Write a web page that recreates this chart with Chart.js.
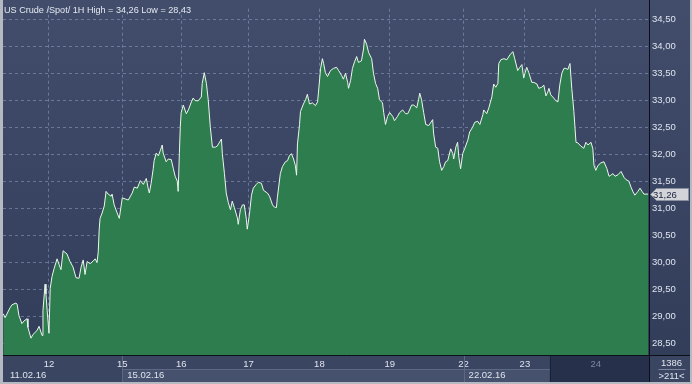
<!DOCTYPE html>
<html><head><meta charset="utf-8">
<script src="https://cdn.jsdelivr.net/npm/chart.js@4.4.0/dist/chart.umd.min.js"></script>
<style>html,body{margin:0;padding:0;background:#b4b9c2;overflow:hidden}canvas{display:block}</style>
</head><body>
<canvas id="c" width="692" height="384" style="width:692px;height:384px"></canvas>
<script>
// time axis in hourly bars from the first visible bar
const barIndex = [0.1,0.7,2.3,3.0,4.3,4.7,5.3,6.3,7.0,8.0,8.3,9.3,10.0,11.3,12.0,13.0,13.3,14.0,14.3,14.7,15.3,15.7,16.3,17.0,18.0,18.7,19.3,20.0,21.3,22.3,23.3,24.3,25.3,26.0,26.7,27.3,28.0,29.0,30.0,30.7,31.3,31.7,32.0,32.3,33.0,33.7,34.3,35.0,36.0,36.3,37.0,38.0,38.7,39.3,39.7,40.7,41.7,43.0,43.7,44.7,45.7,46.7,47.7,48.3,48.7,49.3,50.0,50.3,51.0,51.7,52.3,53.0,53.3,54.3,55.0,56.0,56.7,57.3,58.0,58.3,58.7,59.0,59.3,60.0,61.0,61.7,62.7,63.3,64.0,65.0,66.0,66.3,67.0,67.7,68.3,69.0,69.7,70.7,71.3,72.7,73.0,73.7,74.3,75.0,75.7,76.3,77.0,78.0,78.3,79.0,79.7,80.3,81.0,81.3,82.0,82.7,83.3,84.3,85.0,86.0,86.7,88.0,88.7,89.7,90.3,91.0,91.3,92.3,93.0,94.0,94.7,95.3,96.0,96.7,97.3,97.7,98.0,98.7,99.0,100.0,100.7,101.3,102.0,103.0,104.0,104.7,105.0,105.7,106.3,106.7,107.3,108.0,109.0,110.0,111.0,111.7,112.7,113.3,114.0,114.7,115.0,115.7,116.3,117.0,117.7,118.3,119.3,120.0,120.3,121.0,121.7,122.7,123.3,124.0,124.7,125.3,126.3,126.7,127.3,128.0,128.7,129.7,130.3,131.3,132.0,133.0,133.7,134.0,134.7,135.3,136.0,136.7,137.7,138.3,138.7,139.3,140.0,140.7,141.7,143.0,143.3,144.0,144.7,145.3,146.0,146.7,147.3,148.0,149.0,149.7,150.0,150.7,151.3,151.7,152.3,153.0,153.7,154.7,155.3,156.3,157.0,158.0,158.7,159.7,160.0,161.0,161.7,162.7,163.3,164.0,164.7,165.0,165.7,166.7,167.7,168.7,169.7,170.3,171.3,172.0,172.7,173.3,173.7,174.3,175.0,176.0,176.7,177.7,178.3,179.3,180.0,180.7,181.3,181.7,182.3,183.3,184.0,184.7,185.3,186.0,186.7,187.3,188.0,188.3,188.7,189.3,190.0,190.7,191.3,192.3,193.3,194.0,194.7,195.7,196.3,196.7,197.3,198.0,199.0,200.0,201.0,201.7,202.3,203.0,203.7,204.7,205.7,206.7,207.3,208.3,209.0,209.7,210.3,211.3,212.0,212.7,213.3,214.7];
const prices = [29.04,28.97,29.15,29.21,29.24,29.22,29.01,28.86,28.91,28.95,28.79,28.59,28.66,28.73,28.81,28.64,29.10,29.59,29.41,29.10,28.68,29.51,29.73,29.88,30.06,29.95,29.86,30.21,30.15,30.01,29.91,29.71,29.70,29.91,30.04,29.77,30.01,29.97,30.02,30.06,29.99,30.19,30.59,30.81,30.91,31.04,31.31,31.26,31.22,31.26,31.06,30.91,30.81,31.04,31.19,31.17,31.15,31.28,31.39,31.37,31.51,31.44,31.55,31.37,31.28,31.46,31.73,31.88,32.02,31.97,32.06,32.17,32.02,31.86,31.91,31.90,31.73,31.59,31.50,31.31,32.01,32.50,32.77,32.91,32.75,32.82,32.97,33.04,32.99,32.99,33.06,33.31,33.51,33.31,33.01,32.50,32.13,32.13,32.15,32.28,32.01,31.64,31.28,31.10,30.97,31.13,31.01,30.82,30.70,30.97,31.06,31.06,30.79,30.61,30.88,31.24,31.37,31.44,31.48,31.46,31.33,31.28,31.22,31.06,31.02,31.01,31.19,31.64,31.77,31.86,31.88,31.97,32.01,31.91,31.79,31.61,32.19,32.55,32.79,32.93,33.01,33.11,32.93,32.95,32.90,32.97,33.15,33.59,33.77,33.68,33.51,33.44,33.55,33.59,33.61,33.55,33.46,33.39,33.50,33.33,33.22,33.37,33.59,33.71,33.81,33.70,33.73,33.95,34.13,34.04,33.88,33.77,33.50,33.31,33.22,33.01,32.95,32.77,32.55,32.70,32.77,32.70,32.62,32.70,32.77,32.82,32.77,32.75,32.75,32.82,32.91,32.91,32.86,33.01,33.13,33.01,32.77,32.55,32.53,32.64,32.39,32.13,32.11,31.86,31.70,31.77,31.86,31.88,32.10,32.01,31.91,32.13,32.22,31.95,31.73,32.01,32.11,32.26,32.41,32.50,32.59,32.61,32.55,32.73,32.82,32.75,32.86,33.06,33.30,33.24,33.31,33.68,33.75,33.77,33.75,33.84,33.90,33.77,33.55,33.61,33.66,33.41,33.50,33.61,33.51,33.33,33.33,33.30,33.22,33.24,33.28,33.08,33.15,33.22,33.10,33.04,32.99,32.97,33.28,33.50,33.59,33.59,33.57,33.62,33.68,33.22,32.79,32.22,32.21,32.15,32.11,32.22,32.17,32.22,32.10,31.79,31.70,31.79,31.84,31.86,31.73,31.59,31.61,31.64,31.59,31.62,31.68,31.57,31.53,31.50,31.39,31.30,31.24,31.31,31.37,31.31,31.26,31.26];
const dayTicks = [15.3,39.7,59.3,81.7,105.3,128.7,153.3,173.7,197.3];
const dayLabels = ['12','15','16','17','18','19','22','23','24'];
const weekStarts = [0,39.7,153.3];
const weekLabels = ['11.02.16','15.02.16','22.02.16'];
const yTickValues = [28.5,29,29.5,30,30.5,31,31.5,32,32.5,33,33.5,34,34.5];
const titleText = 'US Crude /Spot/ 1H High = 34,26 Low = 28,43';
const barsTotal = '1386';
const barsVisible = '>211<';
const sessionStart = 182;   // start of the open (darker) session on the time axis
const axisMin = 0, axisMax = 215, yMin = 28.278, yMax = 34.696;

const W = 692, H = 384;
const FONT = 'Liberation Sans, Arial, sans-serif';
const fmt = v => v.toFixed(2).replace('.', ',');

const deco = {
  id: 'deco',
  beforeDraw(chart) {
    const {ctx, chartArea: a, scales: {x}} = chart;
    ctx.save();
    ctx.fillStyle = '#b4b9c2';
    ctx.fillRect(0, 0, W, H);
    const g = ctx.createLinearGradient(0, 0, 0, a.bottom);
    g.addColorStop(0, '#414d6b');
    g.addColorStop(1, '#323d5a');
    ctx.fillStyle = g;
    ctx.fillRect(a.left, 0, W - 2 - a.left, a.bottom);
    ctx.fillStyle = '#3a4561';
    ctx.fillRect(a.left, a.bottom, W - 2 - a.left, H - 2 - a.bottom);
    const xs = x.getPixelForValue(sessionStart);
    const xw1 = x.getPixelForValue(weekStarts[1]);
    ctx.fillStyle = '#46516e';
    ctx.fillRect(xw1, a.bottom + 14, xs - xw1, H - 2 - a.bottom - 14);
    ctx.fillStyle = '#26304a';
    ctx.fillRect(xs, a.bottom, a.right - xs, H - 2 - a.bottom);
    ctx.restore();
  },
  afterDraw(chart) {
    const {ctx, chartArea: a, scales: {x, y}} = chart;
    ctx.save();
    ctx.strokeStyle = '#5d6984';
    ctx.lineWidth = 1;
    const xs = x.getPixelForValue(sessionStart);
    ctx.beginPath();
    ctx.moveTo(x.getPixelForValue(weekStarts[1]), a.bottom + 14.5);
    ctx.lineTo(xs, a.bottom + 14.5);
    for (let i = 1; i < weekStarts.length; i++) {
      const px = Math.round(x.getPixelForValue(weekStarts[i])) + 0.5;
      ctx.moveTo(px, a.bottom);
      ctx.lineTo(px, H - 2);
    }
    ctx.stroke();
    ctx.strokeStyle = '#1a2136';
    ctx.beginPath();
    ctx.moveTo(Math.round(xs) + 0.5, a.bottom);
    ctx.lineTo(Math.round(xs) + 0.5, H - 2);
    ctx.stroke();
    ctx.fillStyle = '#dfe4ee';
    ctx.font = '9.5px ' + FONT;
    ctx.textBaseline = 'alphabetic';
    ctx.textAlign = 'left';
    weekLabels.forEach((t, i) => {
      const px = x.getPixelForValue(weekStarts[i]) + (i === 0 ? 7 : 5);
      ctx.fillText(t, px, a.bottom + 23);
    });
    ctx.strokeStyle = '#0c0f18';
    ctx.beginPath();
    ctx.moveTo(a.left, a.bottom + 0.5);
    ctx.lineTo(W - 2, a.bottom + 0.5);
    ctx.moveTo(a.right + 0.5, 0);
    ctx.lineTo(a.right + 0.5, H - 2);
    ctx.stroke();
    ctx.fillStyle = '#e4e8f0';
    ctx.font = '9.1px ' + FONT;
    ctx.fillText(titleText, a.left + 1, 12.5);
    const last = prices[prices.length - 1];
    const ty = Math.round(y.getPixelForValue(last));
    ctx.fillStyle = '#d2d4da';
    ctx.strokeStyle = '#8a90a0';
    ctx.beginPath();
    ctx.moveTo(a.right + 1.5, ty + 0.5);
    ctx.lineTo(a.right + 7.5, ty - 5.5);
    ctx.lineTo(W - 3.5, ty - 5.5);
    ctx.lineTo(W - 3.5, ty + 6.5);
    ctx.lineTo(a.right + 7.5, ty + 6.5);
    ctx.closePath();
    ctx.fill();
    ctx.stroke();
    ctx.fillStyle = '#1c2238';
    ctx.textBaseline = 'middle';
    ctx.font = '9.5px ' + FONT;
    ctx.fillText(fmt(last), a.right + 4, ty + 1);
    ctx.fillStyle = '#dfe4ee';
    ctx.textAlign = 'center';
    const cx = (a.right + W) / 2 + 1;
    ctx.fillText(barsTotal, cx, a.bottom + 8);
    ctx.fillText(barsVisible, cx, a.bottom + 21);
    ctx.strokeStyle = '#7c86a0';
    ctx.beginPath();
    ctx.moveTo(cx - 13, a.bottom + 14.5);
    ctx.lineTo(cx + 14, a.bottom + 14.5);
    ctx.stroke();
    ctx.restore();
  }
};

new Chart(document.getElementById('c').getContext('2d'), {
  type: 'line',
  data: {
    datasets: [{
      data: barIndex.map((b, i) => ({x: b, y: prices[i]})),
      borderColor: '#eaf8ea',
      borderWidth: 1,
      backgroundColor: '#2e7d4e',
      fill: 'start',
      pointRadius: 0,
      tension: 0
    }]
  },
  options: {
    responsive: false,
    animation: false,
    events: [],
    layout: {padding: {left: 3, top: 2, right: 0, bottom: 0}},
    plugins: {legend: {display: false}, tooltip: {enabled: false}, title: {display: false}},
    scales: {
      x: {
        type: 'linear', min: axisMin, max: axisMax, position: 'bottom', z: 1,
        afterBuildTicks(s) { s.ticks = dayTicks.map(v => ({value: v})); },
        afterFit(s) { s.height = 29; },
        ticks: {
          autoSkip: false, maxRotation: 0, padding: 4,
          callback: (v, i) => dayLabels[i],
          color: c => c.index === dayLabels.length - 1 ? '#7d879f' : '#dfe4ee',
          font: {family: FONT, size: 9.5}
        },
        grid: {color: 'rgba(150,170,205,0.5)', lineWidth: 1, drawTicks: false},
        border: {display: false, dash: [3, 3]}
      },
      y: {
        type: 'linear', min: yMin, max: yMax, position: 'right', z: 1,
        afterBuildTicks(s) { s.ticks = yTickValues.map(v => ({value: v})); },
        afterFit(s) { s.width = 43; },
        ticks: {
          padding: 3,
          callback: v => fmt(v),
          color: '#dfe4ee',
          font: {family: FONT, size: 9.5}
        },
        grid: {color: 'rgba(150,170,205,0.5)', lineWidth: 1, drawTicks: false},
        border: {display: false, dash: [3, 3]}
      }
    }
  },
  plugins: [deco]
});
</script>
</body></html>
